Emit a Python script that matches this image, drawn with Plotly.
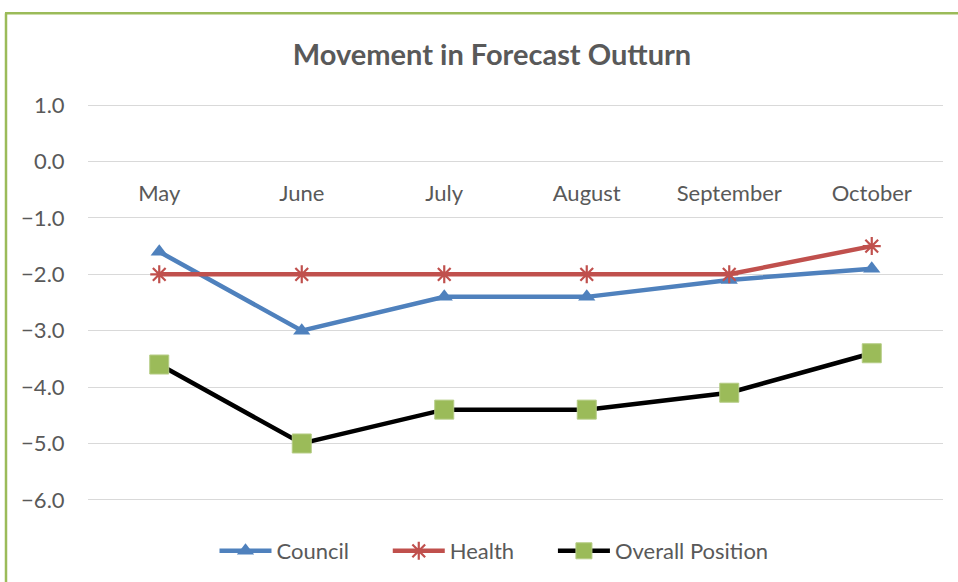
import plotly.graph_objects as go

months = ["May", "June", "July", "August", "September", "October"]
council = [-1.6, -3.0, -2.4, -2.4, -2.1, -1.9]
health = [-2.0, -2.0, -2.0, -2.0, -2.0, -1.5]
overall = [-3.6, -5.0, -4.4, -4.4, -4.1, -3.4]
y_ticks = [1.0, 0.0, -1.0, -2.0, -3.0, -4.0, -5.0, -6.0]
series_names = ["Council", "Health", "Overall Position"]

FONT = "Lato, 'Open Sans', sans-serif"
GREY = "#595959"
PAD = "\u00a0" * 6

fig = go.Figure()
fig.add_trace(go.Scatter(
    x=months, y=council, name=series_names[0] + PAD, mode="lines+markers",
    line=dict(color="#4F81BD", width=4.5),
    marker=dict(symbol="triangle-up", size=15, color="#4F81BD"),
))
fig.add_trace(go.Scatter(
    x=months, y=health, name=series_names[1] + PAD, mode="lines+markers",
    line=dict(color="#C0504D", width=4.5),
    marker=dict(symbol="asterisk-open", size=15, color="#C0504D",
                line=dict(color="#C0504D", width=2.2)),
))
fig.add_trace(go.Scatter(
    x=months, y=overall, name=series_names[2], mode="lines+markers",
    line=dict(color="#000000", width=4.5),
    marker=dict(symbol="square", size=19, color="#9BBB59",
                line=dict(color="#B5CC84", width=1)),
))

L, R = 88, 943
W, H = 958, 582
YMIN, YMAX = -6.02, 1.02
T = 105 - 0.02 * (395 / 7)
B = 500 + 0.02 * (395 / 7)


def px(xp):
    return (xp - L) / (R - L)


def py(yp):
    return (B - yp) / (B - T)


fig.update_layout(
    width=W, height=H,
    margin=dict(l=L, r=W - R, t=T, b=H - B, autoexpand=False),
    paper_bgcolor="white", plot_bgcolor="white",
    font=dict(family=FONT, color=GREY, size=22),
    title=dict(text="<b>Movement in Forecast Outturn</b>", x=492 / W, xanchor="center",
               xref="container", y=1 - 55 / H, yref="container", yanchor="middle",
               font=dict(family=FONT, size=29, color=GREY)),
    showlegend=True,
    legend=dict(orientation="h", x=494 / W, xref="container", xanchor="center",
                y=1 - 551 / H, yref="container", yanchor="middle",
                font=dict(family=FONT, size=22, color=GREY), itemwidth=52,
                tracegroupgap=0),
    xaxis=dict(type="category", range=[-0.5, 5.5], showgrid=False, showline=False,
               zeroline=False, anchor="free", position=(0 - YMIN) / (YMAX - YMIN),
               ticks="outside", ticklen=12, tickcolor="rgba(0,0,0,0)",
               tickfont=dict(family=FONT, size=22, color=GREY)),
    yaxis=dict(range=[YMIN, YMAX], tickvals=y_ticks, tickformat=".1f",
               showgrid=True, gridcolor="#D9D9D9", gridwidth=1,
               zeroline=False, showline=False,
               ticks="outside", ticklen=18, tickcolor="rgba(0,0,0,0)",
               tickfont=dict(family=FONT, size=22, color=GREY)),
    shapes=[
        dict(type="line", xref="paper", yref="paper", x0=px(5), x1=px(960),
             y0=py(13), y1=py(13), line=dict(color="#9BBB59", width=2.5)),
        dict(type="line", xref="paper", yref="paper", x0=px(6), x1=px(6),
             y0=py(13), y1=py(590), line=dict(color="#9BBB59", width=2.5)),
    ],
)

fig.write_html("out.html", config={"displayModeBar": False},
               post_script="document.body.style.margin='0';")
